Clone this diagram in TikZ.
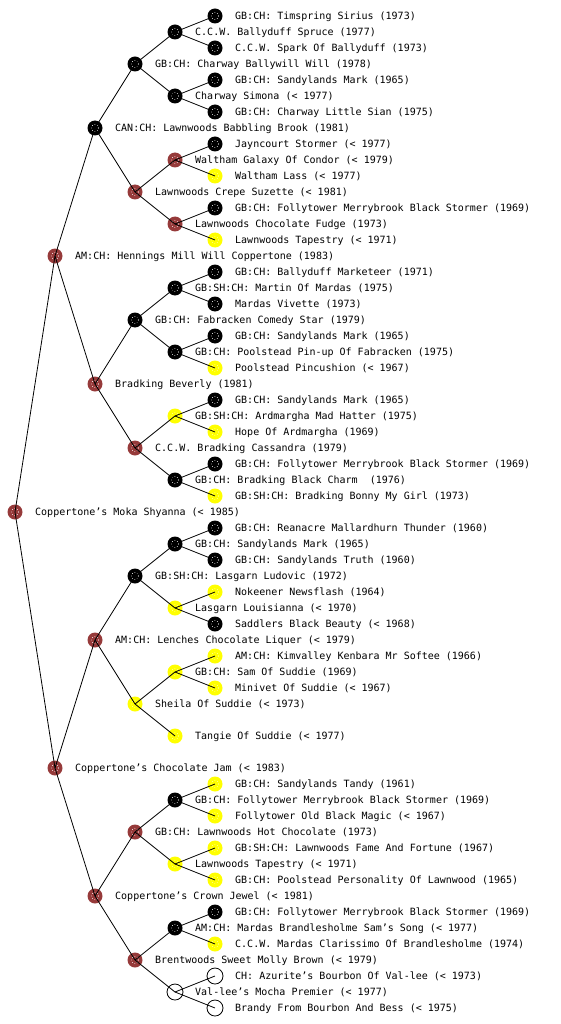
\documentclass[tikz,border=0pt]{standalone}
\usepackage{fontspec}
\setmonofont{DejaVu Sans Mono}
\definecolor{nodered}{RGB}{150,58,58}
\definecolor{nodeyellow}{RGB}{255,255,0}
\tikzset{
  pnode/.style={circle, inner sep=0pt, minimum size=15pt,
    path picture={\draw[white, dotted, line width=0.6pt] (path picture bounding box.center) circle (3.5pt);}},
  pred/.style={pnode, fill=nodered},
  pblack/.style={pnode, fill=black},
  pyellow/.style={pnode, fill=nodeyellow,
    path picture={\draw[white!70!yellow, dotted, line width=0.6pt] (path picture bounding box.center) circle (3.5pt);}},
  punknown/.style={circle, inner sep=0pt, minimum size=16pt, draw=black, fill=white, line width=0.8pt},
  lbl/.style={anchor=base west, inner sep=0pt, font=\ttfamily\fontsize{10}{12}\selectfont},
  edge/.style={draw=black, line width=0.8pt}
}
\newcommand\person[5]{%
  \node[#4] (#1) at (#2,#3) {};
  \node[lbl] (#1-t) at (#2+20,#3+3.3) {#5};
}
\begin{document}
\begin{tikzpicture}[x=1pt, y=-1pt]
\useasboundingbox (0,0) rectangle (560,1024);
\person{r}{15}{512}{pred}{Coppertone’s Moka Shyanna (< 1985)}
% level 1
\person{a}{55}{256}{pred}{AM:CH: Hennings Mill Will Coppertone (1983)}
\person{b}{55}{768}{pred}{Coppertone’s Chocolate Jam (< 1983)}
% level 2
\person{aa}{95}{128}{pblack}{CAN:CH: Lawnwoods Babbling Brook (1981)}
\person{ab}{95}{384}{pred}{Bradking Beverly (1981)}
\person{ba}{95}{640}{pred}{AM:CH: Lenches Chocolate Liquer (< 1979)}
\person{bb}{95}{896}{pred}{Coppertone’s Crown Jewel (< 1981)}
% level 3
\person{aaa}{135}{64}{pblack}{GB:CH: Charway Ballywill Will (1978)}
\person{aab}{135}{192}{pred}{Lawnwoods Crepe Suzette (< 1981)}
\person{aba}{135}{320}{pblack}{GB:CH: Fabracken Comedy Star (1979)}
\person{abb}{135}{448}{pred}{C.C.W. Bradking Cassandra (1979)}
\person{baa}{135}{576}{pblack}{GB:SH:CH: Lasgarn Ludovic (1972)}
\person{bab}{135}{704}{pyellow}{Sheila Of Suddie (< 1973)}
\person{bba}{135}{832}{pred}{GB:CH: Lawnwoods Hot Chocolate (1973)}
\person{bbb}{135}{960}{pred}{Brentwoods Sweet Molly Brown (< 1979)}
% level 4
\person{aaaa}{175}{32}{pblack}{C.C.W. Ballyduff Spruce (1977)}
\person{aaab}{175}{96}{pblack}{Charway Simona (< 1977)}
\person{aaba}{175}{160}{pred}{Waltham Galaxy Of Condor (< 1979)}
\person{aabb}{175}{224}{pred}{Lawnwoods Chocolate Fudge (1973)}
\person{abaa}{175}{288}{pblack}{GB:SH:CH: Martin Of Mardas (1975)}
\person{abab}{175}{352}{pblack}{GB:CH: Poolstead Pin-up Of Fabracken (1975)}
\person{abba}{175}{416}{pyellow}{GB:SH:CH: Ardmargha Mad Hatter (1975)}
\person{abbb}{175}{480}{pblack}{GB:CH: Bradking Black Charm~ (1976)}
\person{baaa}{175}{544}{pblack}{GB:CH: Sandylands Mark (1965)}
\person{baab}{175}{608}{pyellow}{Lasgarn Louisianna (< 1970)}
\person{baba}{175}{672}{pyellow}{GB:CH: Sam Of Suddie (1969)}
\person{babb}{175}{736}{pyellow}{Tangie Of Suddie (< 1977)}
\person{bbaa}{175}{800}{pblack}{GB:CH: Follytower Merrybrook Black Stormer (1969)}
\person{bbab}{175}{864}{pyellow}{Lawnwoods Tapestry (< 1971)}
\person{bbba}{175}{928}{pblack}{AM:CH: Mardas Brandlesholme Sam’s Song (< 1977)}
\person{bbbb}{175}{992}{punknown}{Val-lee’s Mocha Premier (< 1977)}
% level 5
\person{aaaaa}{215}{16}{pblack}{GB:CH: Timspring Sirius (1973)}
\person{aaaab}{215}{48}{pblack}{C.C.W. Spark Of Ballyduff (1973)}
\person{aaaba}{215}{80}{pblack}{GB:CH: Sandylands Mark (1965)}
\person{aaabb}{215}{112}{pblack}{GB:CH: Charway Little Sian (1975)}
\person{aabaa}{215}{144}{pblack}{Jayncourt Stormer (< 1977)}
\person{aabab}{215}{176}{pyellow}{Waltham Lass (< 1977)}
\person{aabba}{215}{208}{pblack}{GB:CH: Follytower Merrybrook Black Stormer (1969)}
\person{aabbb}{215}{240}{pyellow}{Lawnwoods Tapestry (< 1971)}
\person{abaaa}{215}{272}{pblack}{GB:CH: Ballyduff Marketeer (1971)}
\person{abaab}{215}{304}{pblack}{Mardas Vivette (1973)}
\person{ababa}{215}{336}{pblack}{GB:CH: Sandylands Mark (1965)}
\person{ababb}{215}{368}{pyellow}{Poolstead Pincushion (< 1967)}
\person{abbaa}{215}{400}{pblack}{GB:CH: Sandylands Mark (1965)}
\person{abbab}{215}{432}{pyellow}{Hope Of Ardmargha (1969)}
\person{abbba}{215}{464}{pblack}{GB:CH: Follytower Merrybrook Black Stormer (1969)}
\person{abbbb}{215}{496}{pyellow}{GB:SH:CH: Bradking Bonny My Girl (1973)}
\person{baaaa}{215}{528}{pblack}{GB:CH: Reanacre Mallardhurn Thunder (1960)}
\person{baaab}{215}{560}{pblack}{GB:CH: Sandylands Truth (1960)}
\person{baaba}{215}{592}{pyellow}{Nokeener Newsflash (1964)}
\person{baabb}{215}{624}{pblack}{Saddlers Black Beauty (< 1968)}
\person{babaa}{215}{656}{pyellow}{AM:CH: Kimvalley Kenbara Mr Softee (1966)}
\person{babab}{215}{688}{pyellow}{Minivet Of Suddie (< 1967)}
\person{bbaaa}{215}{784}{pyellow}{GB:CH: Sandylands Tandy (1961)}
\person{bbaab}{215}{816}{pyellow}{Follytower Old Black Magic (< 1967)}
\person{bbaba}{215}{848}{pyellow}{GB:SH:CH: Lawnwoods Fame And Fortune (1967)}
\person{bbabb}{215}{880}{pyellow}{GB:CH: Poolstead Personality Of Lawnwood (1965)}
\person{bbbaa}{215}{912}{pblack}{GB:CH: Follytower Merrybrook Black Stormer (1969)}
\person{bbbab}{215}{944}{pyellow}{C.C.W. Mardas Clarissimo Of Brandlesholme (1974)}
\person{bbbba}{215}{976}{punknown}{CH: Azurite’s Bourbon Of Val-lee (< 1973)}
\person{bbbbb}{215}{1008}{punknown}{Brandy From Bourbon And Bess (< 1975)}
% connectors
\foreach \p/\c in {r/a, r/b,
  a/aa, a/ab, b/ba, b/bb,
  aa/aaa, aa/aab, ab/aba, ab/abb, ba/baa, ba/bab, bb/bba, bb/bbb,
  aaa/aaaa, aaa/aaab, aab/aaba, aab/aabb, aba/abaa, aba/abab, abb/abba, abb/abbb,
  baa/baaa, baa/baab, bab/baba, bab/babb, bba/bbaa, bba/bbab, bbb/bbba, bbb/bbbb,
  aaaa/aaaaa, aaaa/aaaab, aaab/aaaba, aaab/aaabb, aaba/aabaa, aaba/aabab, aabb/aabba, aabb/aabbb,
  abaa/abaaa, abaa/abaab, abab/ababa, abab/ababb, abba/abbaa, abba/abbab, abbb/abbba, abbb/abbbb,
  baaa/baaaa, baaa/baaab, baab/baaba, baab/baabb, baba/babaa, baba/babab,
  bbaa/bbaaa, bbaa/bbaab, bbab/bbaba, bbab/bbabb, bbba/bbbaa, bbba/bbbab, bbbb/bbbba, bbbb/bbbbb}
  \draw[edge] (\p.center) -- (\c.center);
\end{tikzpicture}
\end{document}
